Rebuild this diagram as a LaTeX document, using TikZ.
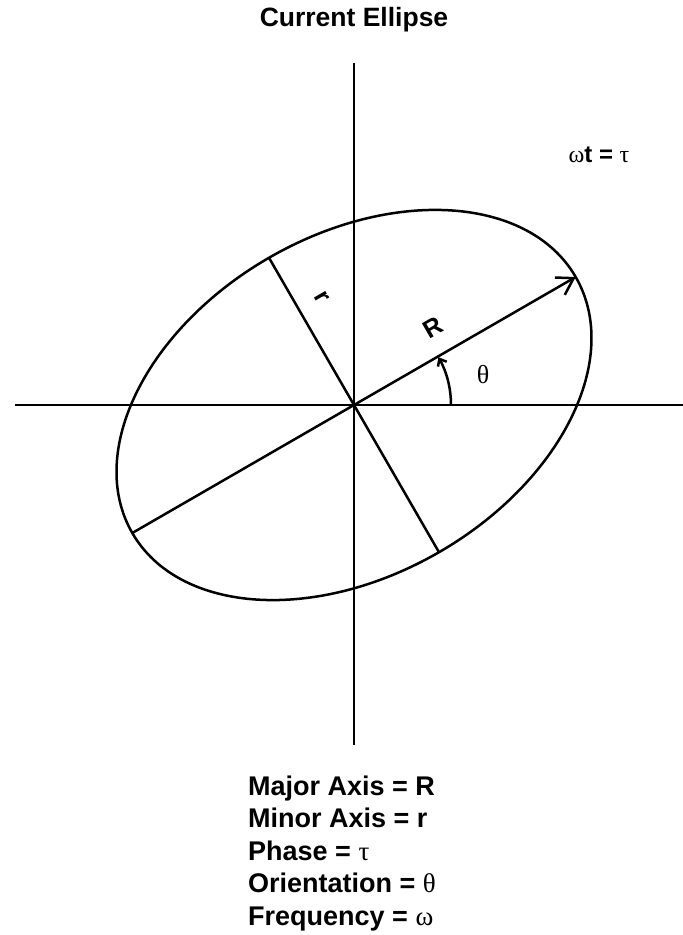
\documentclass[tikz,border=0pt]{standalone}
\usepackage{fontspec}
\setmainfont{Liberation Sans}
\newfontfamily\grk{Liberation Serif}
\usetikzlibrary{arrows.meta}
\begin{document}
\begin{tikzpicture}[x=1pt,y=1pt,
  ln/.style={line width=2.5pt},
  lbl/.style={font=\bfseries, inner sep=0pt},
  tip/.style={-{Straight Barb[length=16pt,width=20pt,line width=2.5pt]}},
  smalltip/.style={-{Straight Barb[length=6pt,width=10pt,line width=2.5pt]}}]
\useasboundingbox (-354,-530) rectangle (329,405);
\coordinate (O) at (0,0);
% axes
\coordinate (xl) at (-339,0);
\coordinate (xr) at (329,0);
\coordinate (yt) at (0,342);
\coordinate (yb) at (0,-340);
\draw[ln] (xl) -- (xr);
\draw[ln] (yt) -- (yb);
% ellipse
\draw[ln, rotate=30] (O) ellipse [x radius=256, y radius=170];
% axes of ellipse
\coordinate (Rend) at (30:256);
\coordinate (Rback) at (210:256);
\coordinate (rtop) at (120:170);
\coordinate (rbot) at (300:170);
\draw[ln] (Rback) -- (O);
\draw[ln, tip] (O) -- (Rend);
\draw[ln] (rtop) -- (rbot);
% theta arc
\coordinate (a0) at (97,0);
\draw[ln, smalltip] (a0) arc[start angle=0, end angle=29.5, radius=97];
% labels
\node[lbl, font=\bfseries\fontsize{25}{25}\selectfont, rotate=30] (Rl) at (79,77) {R};
\node[lbl, font=\bfseries\fontsize{25}{25}\selectfont, rotate=-60] (rl) at (-32,108) {r};
\node[inner sep=0pt, font=\grk\fontsize{26}{26}\selectfont] (th) at (129,30) {θ};
\node[inner sep=0pt, anchor=base, font=\fontsize{24}{24}\selectfont] (wt) at (245,242) {{\grk ω}\textbf{t = }{\grk τ}};
\node[lbl, anchor=base, font=\bfseries\fontsize{26.5}{26.5}\selectfont] (title) at (0,378) {Current Ellipse};
\node[inner sep=0pt, anchor=base west, align=left, font=\bfseries\fontsize{27}{32.5}\selectfont] (leg) at (-106,-520)
  {Major Axis = R\\Minor Axis = r\\Phase = {\mdseries\grk τ}\\Orientation = {\mdseries\grk θ}\\Frequency = {\mdseries\grk ω}};
\end{tikzpicture}
\end{document}
